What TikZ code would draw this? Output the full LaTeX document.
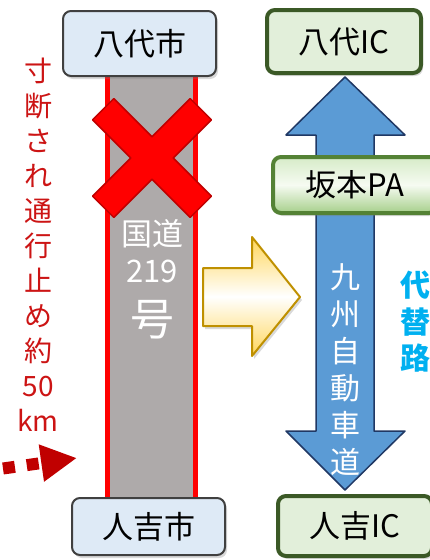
\documentclass[tikz,border=0pt]{standalone}
\usepackage{fontspec}
\setmainfont{Noto Sans CJK JP}
\usetikzlibrary{shadows,arrows.meta}
\definecolor{boxblue}{RGB}{222,234,246}
\definecolor{boxgray}{RGB}{64,64,64}
\definecolor{icgreen}{RGB}{59,89,38}
\definecolor{icfill}{RGB}{226,239,218}
\definecolor{pagreen}{RGB}{84,130,53}
\definecolor{patop}{RGB}{214,235,200}
\definecolor{pamid}{RGB}{246,251,242}
\definecolor{pabot}{RGB}{166,207,138}
\definecolor{roadgray}{RGB}{174,170,170}
\definecolor{xborder}{RGB}{192,0,0}
\definecolor{cutred}{RGB}{204,20,20}
\definecolor{hwblue}{RGB}{91,155,213}
\definecolor{hwnavy}{RGB}{32,56,100}
\definecolor{altcyan}{RGB}{0,176,240}
\definecolor{arrowgold}{RGB}{191,144,0}
\definecolor{arrowyellow}{RGB}{255,214,90}

\begin{document}
\begin{tikzpicture}[x=1pt, y=-1pt, line join=round,
    boxshadow/.style={drop shadow={shadow xshift=2pt, shadow yshift=-3pt, opacity=0.3}},
    city/.style={draw=boxgray, line width=2pt, fill=boxblue, rounded corners=8pt,
        minimum width=153pt, font=\fontsize{31}{31}\selectfont, boxshadow},
    ic/.style={draw=icgreen, line width=4pt, fill=icfill, rounded corners=8pt,
        minimum width=154pt, font=\fontsize{31}{31}\selectfont, boxshadow},
    pa/.style={draw=pagreen, line width=4pt, top color=patop, bottom color=pabot, middle color=pamid,
        rounded corners=8pt, minimum width=164pt, minimum height=56pt,
        font=\fontsize{31}{31}\selectfont, boxshadow},
    vtext/.style={align=center, inner sep=0pt}]
    \useasboundingbox (0,0) rectangle (430,560);

    % national road 219
    \fill[roadgray] (107.5,70) rectangle (195.5,500);
    \draw[red, line width=5pt] (107.5,70) -- (107.5,500) (195.5,70) -- (195.5,500);
    \node[vtext, text=white, font=\fontsize{31}{37}\selectfont] (kokudo) at (152,251) {国道\\219};
    \node[vtext, text=white, font=\fontsize{44}{44}\selectfont] (gou) at (152,320) {号};

    % expressway
    \draw[fill=hwblue, draw=hwnavy, line width=1.5pt]
        (345,77) -- (405,135) -- (374,135) -- (374,431) -- (405,431) -- (345,490)
        -- (286,431) -- (316,431) -- (316,135) -- (286,135) -- cycle;
    \node[vtext, text=white, font=\fontsize{30}{37}\selectfont] (kyushu) at (345,370) {九\\州\\自\\動\\車\\道};

    % end points
    \node[city, minimum height=65pt] (yatsushiro) at (139.5,43.5) {八代市};
    \node[city, minimum height=57pt] (hitoyoshi) at (148.5,526.5) {人吉市};
    \node[ic, minimum height=63pt] (yatsushiroIC) at (344,41.5) {八代IC};
    \node[ic, minimum height=60pt] (hitoyoshiIC) at (355,526) {人吉IC};
    \node[pa] (sakamoto) at (355,185) {坂本PA};

    % closed
    \draw[fill=red, draw=xborder, line width=1.5pt, shift={(152,158)}, rotate=45]
        (69,15) -- (69,-15) -- (15,-15) -- (15,-69) -- (-15,-69) -- (-15,-15)
        -- (-69,-15) -- (-69,15) -- (-15,15) -- (-15,69) -- (15,69) -- (15,15) -- cycle;
    \node[vtext, text=cutred, font=\fontsize{28}{35}\selectfont] (cut) at (38,245)
        {寸\\断\\さ\\れ\\通\\行\\止\\め\\約\\50\\km};
    \coordinate (cutS) at (3,468.5);
    \coordinate (cutE) at (77,458);
    \draw[xborder, line width=12pt, dash pattern=on 12pt off 12pt,
        -{Triangle[length=36pt, width=35pt]}] (cutS) -- (cutE);

    % detour
    \draw[draw=arrowgold, line width=2pt, top color=arrowyellow, bottom color=arrowyellow,
        middle color=white, boxshadow]
        (203,268) -- (252,268) -- (252,237) -- (300,297) -- (252,356) -- (252,326) -- (203,326) -- cycle;
    \node[vtext, text=altcyan, font=\bfseries\fontsize{30}{36.5}\selectfont] (detour) at (415,322) {代\\替\\路};
\end{tikzpicture}
\end{document}
